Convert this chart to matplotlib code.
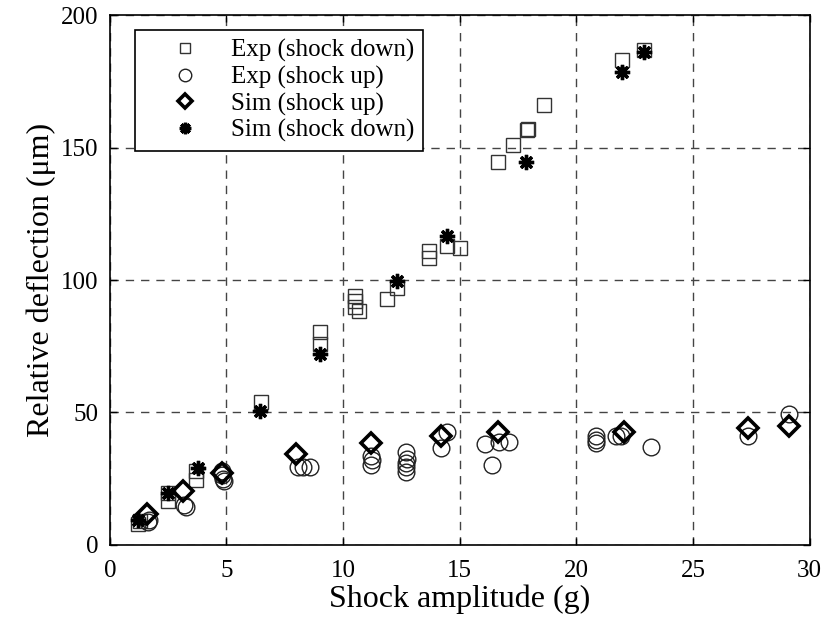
import matplotlib
matplotlib.use("Agg")
import matplotlib.pyplot as plt

plt.rcParams['font.family'] = ['Liberation Serif', 'DejaVu Serif']

# Experimental, shock applied downwards
exp_down_x = [1.2, 1.3, 2.5, 2.5, 3.7, 3.7, 6.5, 9.0, 9.0, 10.5, 10.5, 10.5, 10.7,
              11.9, 12.3, 13.7, 13.7, 14.45, 15.0, 16.65, 17.3, 17.9, 17.95, 18.6,
              21.95, 22.9]
exp_down_y = [8, 9, 19.5, 16.5, 28, 24.5, 54, 80.5, 76, 94, 92, 90, 88.5,
              93, 97, 111, 108.5, 113, 112, 144.5, 151, 156.5, 157, 166,
              183, 187]

# Experimental, shock applied upwards
exp_up_x = [1.65, 1.7, 3.2, 3.25, 4.8, 4.8, 4.85, 4.9, 8.05, 8.3, 8.6, 11.2, 11.2,
            11.25, 12.7, 12.7, 12.7, 12.7, 12.75, 14.2, 14.45, 16.1, 16.4, 16.7,
            17.1, 20.85, 20.85, 20.85, 21.7, 21.9, 23.2, 27.35, 29.1]
exp_up_y = [8.5, 9.5, 15, 14.5, 28, 26.5, 25, 24, 29.5, 29.5, 29.5, 33.5, 30,
            32, 35, 31, 29.5, 27.5, 32.5, 36.5, 42.5, 38, 30.3, 39,
            39, 41, 39.8, 38.6, 41, 41.3, 37, 41, 49.5]

# Simulation, shock upwards
sim_up_x = [1.6, 3.15, 4.8, 8.0, 11.2, 14.2, 16.65, 22.05, 27.35, 29.1]
sim_up_y = [11.5, 20.5, 27, 34.5, 38.5, 41, 42.5, 42.8, 44.3, 44.8]

# Simulation, shock downwards
sim_down_x = [1.2, 2.5, 3.8, 6.45, 9.0, 12.3, 14.45, 17.85, 21.95, 22.9]
sim_down_y = [9.5, 19.5, 29, 50.5, 72, 99.5, 116.5, 144.5, 178.5, 186]

fig = plt.figure(figsize=(8.38, 6.21), dpi=100)
ax = fig.add_axes([0.131, 0.1225, 0.835, 0.853])

ax.plot(exp_down_x, exp_down_y, ls='none', marker='s', ms=10, mfc='none',
        mec='#333333', mew=1.0, label='Exp (shock down)')
ax.plot(exp_up_x, exp_up_y, ls='none', marker='o', ms=12, mfc='none',
        mec='#222222', mew=1.0, label='Exp (shock up)')
ax.plot(sim_up_x, sim_up_y, ls='none', marker='D', ms=10, mfc='none',
        mec='black', mew=2.6, label='Sim (shock up)')
ax.plot(sim_down_x, sim_down_y, ls='none', marker=(8, 2, 0), ms=11,
        mec='black', mew=2.4, label='Sim (shock down)')

ax.set_xlim(0, 30)
ax.set_ylim(0, 200)
ax.set_xticks(range(0, 31, 5))
ax.set_yticks(range(0, 201, 50))
ax.tick_params(direction='in', top=True, right=True, labelsize=18, length=5,
               width=1, pad=8)
ax.tick_params(axis='x', pad=11)
ax.grid(True, color='#444444', ls=(0, (6, 5)), lw=1)
for s in ax.spines.values():
    s.set_linewidth(1.2)

ax.set_xlabel('Shock amplitude (g)', fontsize=23, labelpad=2)
ax.set_ylabel('Relative deflection (μm)', fontsize=23, labelpad=4)

leg = ax.legend(loc='upper left', bbox_to_anchor=(0.036, 0.972), fontsize=18,
                frameon=True, fancybox=False, edgecolor='black', framealpha=1,
                borderpad=0.35, handletextpad=0.2, labelspacing=0.15,
                handlelength=3.3, markerscale=0.75, borderaxespad=0)
leg.get_frame().set_linewidth(1.2)

fig.savefig('out.png', dpi=100)
